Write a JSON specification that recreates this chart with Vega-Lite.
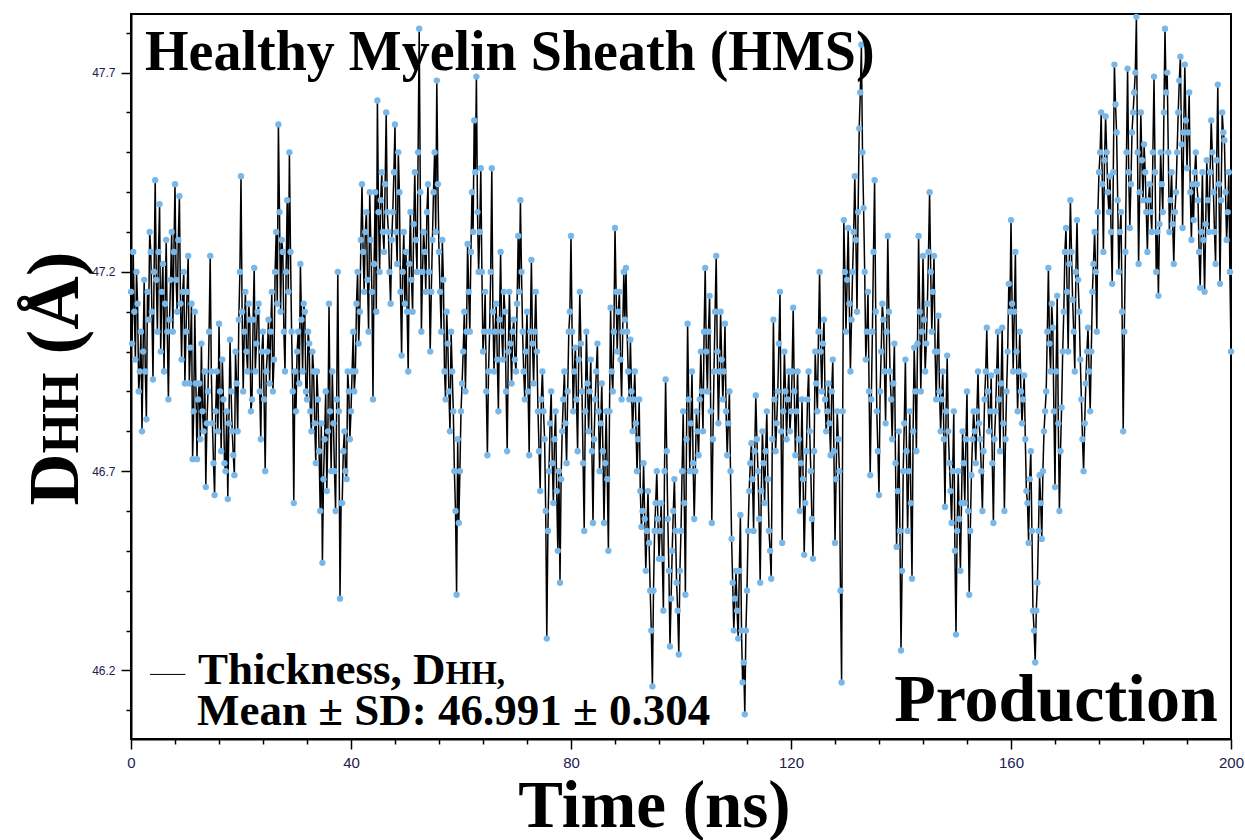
{
"$schema":"https://vega.github.io/schema/vega-lite/v6.json",
"width":1100,"height":725,
"autosize":{"type":"none"},
"padding":{"left":131,"top":14,"right":14,"bottom":101},
"background":"white",
"config":{"view":{"stroke":"black","strokeWidth":2}},
"datasets":{"series":[
{"t":0,"d":47.15},{"t":0.4,"d":47.25},{"t":0.8,"d":46.98},{"t":1.2,"d":47.12},{"t":1.6,"d":46.95},{"t":2,"d":46.80},{"t":2.4,"d":47.18},{"t":2.8,"d":46.83},{"t":3.2,"d":47.08},{"t":3.6,"d":47.25},{"t":4,"d":46.93},{"t":4.4,"d":47.43},{"t":4.8,"d":47.05},{"t":5.2,"d":47.37},{"t":5.6,"d":47.15},{"t":6,"d":46.95},{"t":6.4,"d":47.28},{"t":6.8,"d":46.88},{"t":7.2,"d":47.18},{"t":7.6,"d":47.05},{"t":8,"d":47.42},{"t":8.4,"d":47.10},{"t":8.8,"d":47.39},{"t":9.2,"d":46.98},{"t":9.6,"d":47.20},
{"t":10,"d":47.05},{"t":10.4,"d":47.24},{"t":10.8,"d":47.01},{"t":11.2,"d":46.73},{"t":11.6,"d":47.10},{"t":12,"d":46.73},{"t":12.4,"d":46.92},{"t":12.8,"d":47.02},{"t":13.2,"d":46.80},{"t":13.6,"d":46.66},{"t":14,"d":46.90},{"t":14.4,"d":47.24},{"t":14.8,"d":46.82},{"t":15.2,"d":46.64},{"t":15.6,"d":46.95},{"t":16,"d":47.07},{"t":16.4,"d":46.75},{"t":16.8,"d":46.88},{"t":17.2,"d":46.70},{"t":17.6,"d":46.63},{"t":18,"d":47.03},{"t":18.4,"d":46.80},{"t":18.8,"d":46.69},{"t":19.2,"d":46.92},{"t":19.6,"d":47.08},
{"t":20,"d":47.44},{"t":20.4,"d":46.90},{"t":20.8,"d":47.15},{"t":21.2,"d":46.95},{"t":21.6,"d":47.08},{"t":22,"d":46.88},{"t":22.4,"d":47.21},{"t":22.8,"d":47.02},{"t":23.2,"d":47.12},{"t":23.6,"d":46.78},{"t":24,"d":47.05},{"t":24.4,"d":46.70},{"t":24.8,"d":47.00},{"t":25.2,"d":46.92},{"t":25.6,"d":47.15},{"t":26,"d":46.98},{"t":26.4,"d":47.30},{"t":26.8,"d":47.57},{"t":27.2,"d":47.10},{"t":27.6,"d":47.25},{"t":28,"d":46.95},{"t":28.4,"d":47.38},{"t":28.8,"d":47.50},{"t":29.2,"d":47.05},{"t":29.6,"d":46.62},
{"t":30,"d":46.85},{"t":30.4,"d":47.05},{"t":30.8,"d":47.22},{"t":31.2,"d":46.95},{"t":31.6,"d":47.10},{"t":32,"d":46.88},{"t":32.4,"d":47.02},{"t":32.8,"d":46.80},{"t":33.2,"d":46.95},{"t":33.6,"d":46.72},{"t":34,"d":46.88},{"t":34.4,"d":46.60},{"t":34.8,"d":46.47},{"t":35.2,"d":46.78},{"t":35.6,"d":46.65},{"t":36,"d":47.12},{"t":36.4,"d":46.70},{"t":36.8,"d":46.82},{"t":37.2,"d":46.60},{"t":37.6,"d":47.20},{"t":38,"d":46.38},{"t":38.4,"d":46.62},{"t":38.8,"d":46.80},{"t":39.2,"d":46.68},{"t":39.6,"d":46.90},
{"t":40,"d":46.85},{"t":40.4,"d":47.05},{"t":40.8,"d":46.95},{"t":41.2,"d":47.20},{"t":41.6,"d":47.10},{"t":42,"d":47.42},{"t":42.4,"d":47.15},{"t":42.8,"d":47.35},{"t":43.2,"d":47.05},{"t":43.6,"d":47.28},{"t":44,"d":46.88},{"t":44.4,"d":47.40},{"t":44.8,"d":47.63},{"t":45.2,"d":47.20},{"t":45.6,"d":47.45},{"t":46,"d":47.25},{"t":46.4,"d":47.60},{"t":46.8,"d":47.30},{"t":47.2,"d":47.12},{"t":47.6,"d":47.35},{"t":48,"d":47.57},{"t":48.4,"d":47.22},{"t":48.8,"d":47.40},{"t":49.2,"d":46.99},{"t":49.6,"d":47.30},
{"t":50,"d":47.25},{"t":50.4,"d":46.95},{"t":50.8,"d":47.35},{"t":51.2,"d":47.10},{"t":51.6,"d":47.45},{"t":52,"d":47.20},{"t":52.4,"d":47.81},{"t":52.8,"d":47.05},{"t":53.2,"d":47.30},{"t":53.6,"d":47.15},{"t":54,"d":47.42},{"t":54.4,"d":47.00},{"t":54.8,"d":47.28},{"t":55.2,"d":47.50},{"t":55.6,"d":47.68},{"t":56,"d":47.25},{"t":56.4,"d":47.05},{"t":56.8,"d":47.18},{"t":57.2,"d":46.88},{"t":57.6,"d":47.02},{"t":58,"d":46.80},{"t":58.4,"d":46.95},{"t":58.8,"d":46.70},{"t":59.2,"d":46.39},{"t":59.6,"d":46.57},
{"t":60,"d":46.85},{"t":60.4,"d":47.00},{"t":60.8,"d":46.90},{"t":61.2,"d":47.27},{"t":61.6,"d":47.05},{"t":62,"d":47.40},{"t":62.4,"d":47.58},{"t":62.8,"d":47.69},{"t":63.2,"d":47.20},{"t":63.6,"d":47.46},{"t":64,"d":47.00},{"t":64.4,"d":47.15},{"t":64.8,"d":46.74},{"t":65.2,"d":47.05},{"t":65.6,"d":47.46},{"t":66,"d":46.95},{"t":66.4,"d":47.12},{"t":66.8,"d":46.85},{"t":67.2,"d":47.25},{"t":67.6,"d":46.98},{"t":68,"d":47.10},{"t":68.4,"d":46.75},{"t":68.8,"d":47.15},{"t":69.2,"d":46.92},{"t":69.6,"d":47.08},
{"t":70,"d":46.95},{"t":70.4,"d":47.29},{"t":70.8,"d":47.38},{"t":71.2,"d":47.05},{"t":71.6,"d":46.88},{"t":72,"d":47.10},{"t":72.4,"d":46.74},{"t":72.8,"d":47.23},{"t":73.2,"d":46.92},{"t":73.6,"d":47.15},{"t":74,"d":46.85},{"t":74.4,"d":46.65},{"t":74.8,"d":46.95},{"t":75.2,"d":46.78},{"t":75.6,"d":46.28},{"t":76,"d":46.70},{"t":76.4,"d":46.90},{"t":76.8,"d":46.62},{"t":77.2,"d":46.85},{"t":77.6,"d":46.50},{"t":78,"d":46.42},{"t":78.4,"d":46.80},{"t":78.8,"d":46.95},{"t":79.2,"d":46.72},{"t":79.6,"d":47.05},
{"t":80,"d":47.29},{"t":80.4,"d":46.85},{"t":80.8,"d":47.01},{"t":81.2,"d":46.75},{"t":81.6,"d":47.15},{"t":82,"d":46.90},{"t":82.4,"d":46.55},{"t":82.8,"d":47.05},{"t":83.2,"d":46.80},{"t":83.6,"d":46.98},{"t":84,"d":46.57},{"t":84.4,"d":46.88},{"t":84.8,"d":47.02},{"t":85.2,"d":46.70},{"t":85.6,"d":46.92},{"t":86,"d":46.57},{"t":86.4,"d":46.85},{"t":86.8,"d":46.50},{"t":87.2,"d":47.11},{"t":87.6,"d":46.90},{"t":88,"d":47.31},{"t":88.4,"d":47.00},{"t":88.8,"d":47.15},{"t":89.2,"d":46.88},{"t":89.6,"d":47.20},
{"t":90,"d":47.21},{"t":90.4,"d":46.95},{"t":90.8,"d":47.03},{"t":91.2,"d":46.80},{"t":91.6,"d":46.95},{"t":92,"d":46.70},{"t":92.4,"d":46.88},{"t":92.8,"d":46.56},{"t":93.2,"d":46.72},{"t":93.6,"d":46.45},{"t":94,"d":46.65},{"t":94.4,"d":46.40},{"t":94.8,"d":46.16},{"t":95.2,"d":46.55},{"t":95.6,"d":46.70},{"t":96,"d":46.48},{"t":96.4,"d":46.62},{"t":96.8,"d":46.35},{"t":97.2,"d":46.93},{"t":97.6,"d":46.58},{"t":98,"d":46.26},{"t":98.4,"d":46.50},{"t":98.8,"d":46.68},{"t":99.2,"d":46.42},{"t":99.6,"d":46.24},
{"t":100,"d":46.55},{"t":100.4,"d":46.85},{"t":100.8,"d":46.39},{"t":101.2,"d":47.07},{"t":101.6,"d":46.70},{"t":102,"d":46.95},{"t":102.4,"d":46.58},{"t":102.8,"d":46.85},{"t":103.2,"d":46.74},{"t":103.6,"d":47.00},{"t":104,"d":46.80},{"t":104.4,"d":47.21},{"t":104.8,"d":46.90},{"t":105.2,"d":47.14},{"t":105.6,"d":46.57},{"t":106,"d":46.95},{"t":106.4,"d":47.24},{"t":106.8,"d":46.82},{"t":107.2,"d":47.10},{"t":107.6,"d":46.88},{"t":108,"d":47.07},{"t":108.4,"d":46.74},{"t":108.8,"d":46.90},{"t":109.2,"d":46.53},{"t":109.6,"d":46.30},
{"t":110,"d":46.45},{"t":110.4,"d":46.28},{"t":110.8,"d":46.59},{"t":111.2,"d":46.17},{"t":111.6,"d":46.09},{"t":112,"d":46.40},{"t":112.4,"d":46.65},{"t":112.8,"d":46.77},{"t":113.2,"d":46.55},{"t":113.6,"d":46.89},{"t":114,"d":46.70},{"t":114.4,"d":46.42},{"t":114.8,"d":46.80},{"t":115.2,"d":46.62},{"t":115.6,"d":46.85},{"t":116,"d":46.55},{"t":116.4,"d":46.43},{"t":116.8,"d":47.08},{"t":117.2,"d":46.75},{"t":117.6,"d":46.90},{"t":118,"d":47.15},{"t":118.4,"d":46.52},{"t":118.8,"d":47.00},{"t":119.2,"d":46.78},{"t":119.6,"d":46.95},
{"t":120,"d":46.85},{"t":120.4,"d":47.11},{"t":120.8,"d":46.74},{"t":121.2,"d":46.95},{"t":121.6,"d":46.60},{"t":122,"d":46.88},{"t":122.4,"d":46.49},{"t":122.8,"d":46.75},{"t":123.2,"d":46.95},{"t":123.6,"d":46.70},{"t":124,"d":46.48},{"t":124.4,"d":47.00},{"t":124.8,"d":46.85},{"t":125.2,"d":47.20},{"t":125.6,"d":46.90},{"t":126,"d":47.08},{"t":126.4,"d":46.80},{"t":126.8,"d":46.92},{"t":127.2,"d":46.74},{"t":127.6,"d":46.98},{"t":128,"d":46.52},{"t":128.4,"d":46.85},{"t":128.8,"d":46.70},{"t":129.2,"d":46.17},{"t":129.6,"d":47.33},
{"t":130,"d":47.05},{"t":130.4,"d":47.31},{"t":130.8,"d":46.95},{"t":131.2,"d":47.20},{"t":131.6,"d":47.44},{"t":132,"d":47.10},{"t":132.4,"d":47.56},{"t":132.8,"d":47.77},{"t":133.2,"d":47.36},{"t":133.6,"d":46.98},{"t":134,"d":47.15},{"t":134.4,"d":46.69},{"t":134.8,"d":47.05},{"t":135.2,"d":47.43},{"t":135.6,"d":46.85},{"t":136,"d":46.64},{"t":136.4,"d":47.00},{"t":136.8,"d":47.08},{"t":137.2,"d":46.82},{"t":137.6,"d":47.29},{"t":138,"d":46.95},{"t":138.4,"d":46.78},{"t":138.8,"d":47.02},{"t":139.2,"d":46.51},{"t":139.6,"d":46.80},
{"t":140,"d":46.25},{"t":140.4,"d":46.70},{"t":140.8,"d":46.98},{"t":141.2,"d":46.55},{"t":141.6,"d":46.85},{"t":142,"d":46.43},{"t":142.4,"d":47.01},{"t":142.8,"d":46.75},{"t":143.2,"d":47.29},{"t":143.6,"d":46.90},{"t":144,"d":47.24},{"t":144.4,"d":46.95},{"t":144.8,"d":47.12},{"t":145.2,"d":47.40},{"t":145.6,"d":47.05},{"t":146,"d":47.24},{"t":146.4,"d":46.88},{"t":146.8,"d":47.09},{"t":147.2,"d":46.80},{"t":147.6,"d":46.95},{"t":148,"d":46.61},{"t":148.4,"d":46.99},{"t":148.8,"d":46.72},{"t":149.2,"d":46.57},{"t":149.6,"d":46.85},
{"t":150,"d":46.29},{"t":150.4,"d":46.70},{"t":150.8,"d":46.45},{"t":151.2,"d":46.80},{"t":151.6,"d":46.62},{"t":152,"d":46.90},{"t":152.4,"d":46.39},{"t":152.8,"d":46.69},{"t":153.2,"d":46.85},{"t":153.6,"d":46.72},{"t":154,"d":46.95},{"t":154.4,"d":46.78},{"t":154.8,"d":46.60},{"t":155.2,"d":46.88},{"t":155.6,"d":47.06},{"t":156,"d":46.80},{"t":156.4,"d":46.94},{"t":156.8,"d":46.57},{"t":157.2,"d":46.85},{"t":157.6,"d":47.05},{"t":158,"d":46.75},{"t":158.4,"d":47.06},{"t":158.8,"d":46.60},{"t":159.2,"d":46.90},{"t":159.6,"d":47.17},
{"t":160,"d":47.33},{"t":160.4,"d":46.95},{"t":160.8,"d":47.25},{"t":161.2,"d":46.85},{"t":161.6,"d":47.05},{"t":162,"d":46.82},{"t":162.4,"d":46.94},{"t":162.8,"d":46.65},{"t":163.2,"d":46.52},{"t":163.6,"d":46.75},{"t":164,"d":46.35},{"t":164.4,"d":46.22},{"t":164.8,"d":46.42},{"t":165.2,"d":46.69},{"t":165.6,"d":46.53},{"t":166,"d":46.80},{"t":166.4,"d":46.90},{"t":166.8,"d":47.21},{"t":167.2,"d":46.95},{"t":167.6,"d":47.06},{"t":168,"d":46.66},{"t":168.4,"d":47.14},{"t":168.8,"d":46.60},{"t":169.2,"d":46.86},{"t":169.6,"d":47.10},
{"t":170,"d":47.31},{"t":170.4,"d":47.00},{"t":170.8,"d":47.38},{"t":171.2,"d":47.13},{"t":171.6,"d":46.95},{"t":172,"d":47.33},{"t":172.4,"d":47.10},{"t":172.8,"d":46.88},{"t":173.2,"d":46.70},{"t":173.6,"d":46.92},{"t":174,"d":47.06},{"t":174.4,"d":46.85},{"t":174.8,"d":47.15},{"t":175.2,"d":47.30},{"t":175.6,"d":47.05},{"t":176,"d":47.45},{"t":176.4,"d":47.60},{"t":176.8,"d":47.25},{"t":177.2,"d":47.59},{"t":177.6,"d":47.40},{"t":178,"d":47.44},{"t":178.4,"d":47.17},{"t":178.8,"d":47.72},{"t":179.2,"d":47.55},{"t":179.6,"d":47.20},
{"t":180,"d":47.35},{"t":180.4,"d":46.80},{"t":180.8,"d":47.25},{"t":181.2,"d":47.71},{"t":181.6,"d":47.31},{"t":182,"d":47.55},{"t":182.4,"d":47.65},{"t":182.8,"d":47.84},{"t":183.2,"d":47.22},{"t":183.6,"d":47.60},{"t":184,"d":47.38},{"t":184.4,"d":47.45},{"t":184.8,"d":47.25},{"t":185.2,"d":47.42},{"t":185.6,"d":47.30},{"t":186,"d":47.69},{"t":186.4,"d":47.20},{"t":186.8,"d":47.14},{"t":187.2,"d":47.50},{"t":187.6,"d":47.35},{"t":188,"d":47.81},{"t":188.4,"d":47.70},{"t":188.8,"d":47.30},{"t":189.2,"d":47.45},{"t":189.6,"d":47.22},
{"t":190,"d":47.40},{"t":190.4,"d":47.60},{"t":190.8,"d":47.74},{"t":191.2,"d":47.31},{"t":191.6,"d":47.72},{"t":192,"d":47.46},{"t":192.4,"d":47.65},{"t":192.8,"d":47.28},{"t":193.2,"d":47.33},{"t":193.6,"d":47.50},{"t":194,"d":47.38},{"t":194.4,"d":47.16},{"t":194.8,"d":47.45},{"t":195.2,"d":47.15},{"t":195.6,"d":47.48},{"t":196,"d":47.30},{"t":196.4,"d":47.58},{"t":196.8,"d":47.40},{"t":197.2,"d":47.22},{"t":197.6,"d":47.67},{"t":198,"d":47.17},{"t":198.4,"d":47.60},{"t":198.8,"d":47.53},{"t":199.2,"d":47.28},{"t":199.6,"d":47.45},{"t":200,"d":47.00},
{"t":0.2,"d":47.02},{"t":0.6,"d":47.10},{"t":1,"d":47.20},{"t":1.4,"d":46.90},{"t":1.8,"d":47.05},{"t":2.2,"d":47.00},{"t":2.6,"d":46.95},{"t":3,"d":47.15},{"t":3.4,"d":47.30},{"t":3.8,"d":47.10},{"t":4.2,"d":47.20},{"t":4.6,"d":47.18},{"t":5,"d":47.25},{"t":5.4,"d":47.00},{"t":5.8,"d":47.22},{"t":6.2,"d":47.12},{"t":6.6,"d":47.05},{"t":7,"d":47.08},{"t":7.4,"d":47.30},{"t":7.8,"d":47.25},{"t":8.2,"d":47.18},{"t":8.6,"d":47.28},{"t":9,"d":47.12},{"t":9.4,"d":47.15},{"t":9.8,"d":46.92},
{"t":10.2,"d":47.15},{"t":10.6,"d":46.92},{"t":11,"d":47.12},{"t":11.4,"d":46.85},{"t":11.8,"d":46.92},{"t":12.2,"d":46.88},{"t":12.6,"d":46.78},{"t":13,"d":46.85},{"t":13.4,"d":46.95},{"t":13.8,"d":46.82},{"t":14.2,"d":47.05},{"t":14.6,"d":46.95},{"t":15,"d":46.72},{"t":15.4,"d":46.85},{"t":15.8,"d":46.80},{"t":16.2,"d":46.90},{"t":16.6,"d":46.98},{"t":17,"d":46.72},{"t":17.4,"d":46.85},{"t":17.8,"d":46.82},{"t":18.2,"d":46.90},{"t":18.6,"d":46.74},{"t":19,"d":47.00},{"t":19.4,"d":46.80},{"t":19.8,"d":47.20},
{"t":20.2,"d":47.10},{"t":20.6,"d":47.05},{"t":21,"d":47.00},{"t":21.4,"d":47.12},{"t":21.8,"d":46.85},{"t":22.2,"d":47.08},{"t":22.6,"d":46.95},{"t":23,"d":47.10},{"t":23.4,"d":46.90},{"t":23.8,"d":47.00},{"t":24.2,"d":46.88},{"t":24.6,"d":46.95},{"t":25,"d":47.08},{"t":25.4,"d":47.05},{"t":25.8,"d":46.90},{"t":26.2,"d":47.20},{"t":26.6,"d":47.12},{"t":27,"d":47.35},{"t":27.4,"d":47.28},{"t":27.8,"d":47.05},{"t":28.2,"d":47.20},{"t":28.6,"d":47.15},{"t":29,"d":47.25},{"t":29.4,"d":46.90},{"t":29.8,"d":46.95},
{"t":30.2,"d":47.00},{"t":30.6,"d":46.92},{"t":31,"d":47.08},{"t":31.4,"d":47.12},{"t":31.8,"d":46.90},{"t":32.2,"d":47.05},{"t":32.6,"d":46.85},{"t":33,"d":47.00},{"t":33.4,"d":46.82},{"t":33.8,"d":46.95},{"t":34.2,"d":46.75},{"t":34.6,"d":46.82},{"t":35,"d":46.68},{"t":35.4,"d":46.90},{"t":35.8,"d":46.80},{"t":36.2,"d":46.85},{"t":36.6,"d":46.95},{"t":37,"d":46.70},{"t":37.4,"d":46.88},{"t":37.8,"d":46.85},{"t":38.2,"d":46.62},{"t":38.6,"d":46.75},{"t":39,"d":46.70},{"t":39.4,"d":46.95},{"t":39.8,"d":46.78},
{"t":40.2,"d":46.95},{"t":40.6,"d":46.90},{"t":41,"d":47.12},{"t":41.4,"d":47.02},{"t":41.8,"d":47.28},{"t":42.2,"d":47.25},{"t":42.6,"d":47.30},{"t":43,"d":47.18},{"t":43.4,"d":47.40},{"t":43.8,"d":47.15},{"t":44.2,"d":47.22},{"t":44.6,"d":47.10},{"t":45,"d":47.35},{"t":45.4,"d":47.38},{"t":45.8,"d":47.30},{"t":46.2,"d":47.42},{"t":46.6,"d":47.35},{"t":47,"d":47.20},{"t":47.4,"d":47.28},{"t":47.8,"d":47.45},{"t":48.2,"d":47.30},{"t":48.6,"d":47.50},{"t":49,"d":47.15},{"t":49.4,"d":47.20},{"t":49.8,"d":47.12},
{"t":50.2,"d":47.10},{"t":50.6,"d":47.22},{"t":51,"d":47.18},{"t":51.4,"d":47.32},{"t":51.8,"d":47.28},{"t":52.2,"d":47.50},{"t":52.6,"d":47.40},{"t":53,"d":47.20},{"t":53.4,"d":47.25},{"t":53.8,"d":47.35},{"t":54.2,"d":47.20},{"t":54.6,"d":47.15},{"t":55,"d":47.40},{"t":55.4,"d":47.30},{"t":55.8,"d":47.42},{"t":56.2,"d":47.15},{"t":56.6,"d":47.28},{"t":57,"d":46.95},{"t":57.4,"d":47.10},{"t":57.8,"d":46.90},{"t":58.2,"d":47.05},{"t":58.6,"d":46.85},{"t":59,"d":46.60},{"t":59.4,"d":46.78},{"t":59.8,"d":46.70},
{"t":60.2,"d":46.92},{"t":60.6,"d":47.10},{"t":61,"d":47.05},{"t":61.4,"d":47.15},{"t":61.8,"d":47.25},{"t":62.2,"d":47.30},{"t":62.6,"d":47.45},{"t":63,"d":47.35},{"t":63.4,"d":47.30},{"t":63.8,"d":47.20},{"t":64.2,"d":47.05},{"t":64.6,"d":46.90},{"t":65,"d":46.95},{"t":65.4,"d":47.20},{"t":65.8,"d":47.10},{"t":66.2,"d":47.05},{"t":66.6,"d":46.98},{"t":67,"d":47.08},{"t":67.4,"d":47.05},{"t":67.8,"d":47.15},{"t":68.2,"d":46.90},{"t":68.6,"d":47.00},{"t":69,"d":47.02},{"t":69.4,"d":47.05},{"t":69.8,"d":46.98},
{"t":70.2,"d":47.12},{"t":70.6,"d":47.15},{"t":71,"d":47.20},{"t":71.4,"d":46.95},{"t":71.8,"d":47.00},{"t":72.2,"d":46.90},{"t":72.6,"d":47.05},{"t":73,"d":47.02},{"t":73.4,"d":47.05},{"t":73.8,"d":47.00},{"t":74.2,"d":46.75},{"t":74.6,"d":46.88},{"t":75,"d":46.85},{"t":75.4,"d":46.60},{"t":75.8,"d":46.55},{"t":76.2,"d":46.82},{"t":76.6,"d":46.72},{"t":77,"d":46.78},{"t":77.4,"d":46.65},{"t":77.8,"d":46.70},{"t":78.2,"d":46.68},{"t":78.6,"d":46.88},{"t":79,"d":46.82},{"t":79.4,"d":46.90},{"t":79.8,"d":47.10},
{"t":80.2,"d":47.05},{"t":80.6,"d":46.95},{"t":81,"d":46.88},{"t":81.4,"d":46.98},{"t":81.8,"d":47.02},{"t":82.2,"d":46.72},{"t":82.6,"d":46.85},{"t":83,"d":46.92},{"t":83.4,"d":46.90},{"t":83.8,"d":46.75},{"t":84.2,"d":46.78},{"t":84.6,"d":46.95},{"t":85,"d":46.85},{"t":85.4,"d":46.82},{"t":85.8,"d":46.75},{"t":86.2,"d":46.72},{"t":86.6,"d":46.68},{"t":87,"d":46.85},{"t":87.4,"d":46.95},{"t":87.8,"d":47.05},{"t":88.2,"d":47.15},{"t":88.6,"d":47.10},{"t":89,"d":46.98},{"t":89.4,"d":47.05},{"t":89.8,"d":47.08},
{"t":90.2,"d":47.05},{"t":90.6,"d":46.88},{"t":91,"d":46.90},{"t":91.4,"d":46.88},{"t":91.8,"d":46.82},{"t":92.2,"d":46.78},{"t":92.6,"d":46.65},{"t":93,"d":46.60},{"t":93.4,"d":46.58},{"t":93.8,"d":46.55},{"t":94.2,"d":46.52},{"t":94.6,"d":46.30},{"t":95,"d":46.40},{"t":95.4,"d":46.62},{"t":95.8,"d":46.58},{"t":96.2,"d":46.55},{"t":96.6,"d":46.48},{"t":97,"d":46.70},{"t":97.4,"d":46.75},{"t":97.8,"d":46.45},{"t":98.2,"d":46.38},{"t":98.6,"d":46.60},{"t":99,"d":46.55},{"t":99.4,"d":46.35},{"t":99.8,"d":46.45},
{"t":100.2,"d":46.70},{"t":100.6,"d":46.62},{"t":101,"d":46.78},{"t":101.4,"d":46.88},{"t":101.8,"d":46.82},{"t":102.2,"d":46.72},{"t":102.6,"d":46.70},{"t":103,"d":46.80},{"t":103.4,"d":46.88},{"t":103.8,"d":46.90},{"t":104.2,"d":47.05},{"t":104.6,"d":47.00},{"t":105,"d":47.05},{"t":105.4,"d":46.85},{"t":105.8,"d":46.78},{"t":106.2,"d":47.10},{"t":106.6,"d":47.00},{"t":107,"d":46.95},{"t":107.4,"d":46.98},{"t":107.8,"d":46.95},{"t":108.2,"d":46.85},{"t":108.6,"d":46.82},{"t":109,"d":46.70},{"t":109.4,"d":46.42},{"t":109.8,"d":46.38},
{"t":110.2,"d":46.35},{"t":110.6,"d":46.45},{"t":111,"d":46.30},{"t":111.4,"d":46.22},{"t":111.8,"d":46.30},{"t":112.2,"d":46.55},{"t":112.6,"d":46.72},{"t":113,"d":46.68},{"t":113.4,"d":46.75},{"t":113.8,"d":46.78},{"t":114.2,"d":46.58},{"t":114.6,"d":46.65},{"t":115,"d":46.72},{"t":115.4,"d":46.75},{"t":115.8,"d":46.68},{"t":116.2,"d":46.50},{"t":116.6,"d":46.78},{"t":117,"d":46.88},{"t":117.4,"d":46.82},{"t":117.8,"d":47.02},{"t":118.2,"d":46.80},{"t":118.6,"d":46.85},{"t":119,"d":46.90},{"t":119.4,"d":46.88},{"t":119.8,"d":46.80},
{"t":120.2,"d":46.95},{"t":120.6,"d":46.90},{"t":121,"d":46.85},{"t":121.4,"d":46.78},{"t":121.8,"d":46.72},{"t":122.2,"d":46.68},{"t":122.6,"d":46.62},{"t":123,"d":46.88},{"t":123.4,"d":46.80},{"t":123.8,"d":46.58},{"t":124.2,"d":46.75},{"t":124.6,"d":46.92},{"t":125,"d":47.05},{"t":125.4,"d":47.00},{"t":125.8,"d":47.02},{"t":126.2,"d":46.88},{"t":126.6,"d":46.85},{"t":127,"d":46.82},{"t":127.4,"d":46.90},{"t":127.8,"d":46.75},{"t":128.2,"d":46.68},{"t":128.6,"d":46.78},{"t":129,"d":46.40},{"t":129.4,"d":46.85},{"t":129.8,"d":47.20},
{"t":130.2,"d":47.18},{"t":130.6,"d":47.12},{"t":131,"d":47.08},{"t":131.4,"d":47.30},{"t":131.8,"d":47.28},{"t":132.2,"d":47.35},{"t":132.6,"d":47.65},{"t":133,"d":47.50},{"t":133.4,"d":47.20},{"t":133.8,"d":47.05},{"t":134.2,"d":46.90},{"t":134.6,"d":46.88},{"t":135,"d":47.25},{"t":135.4,"d":47.10},{"t":135.8,"d":46.75},{"t":136.2,"d":46.90},{"t":136.6,"d":47.12},{"t":137,"d":46.95},{"t":137.4,"d":47.05},{"t":137.8,"d":47.10},{"t":138.2,"d":46.88},{"t":138.6,"d":46.92},{"t":139,"d":46.72},{"t":139.4,"d":46.65},{"t":139.8,"d":46.55},
{"t":140.2,"d":46.45},{"t":140.6,"d":46.82},{"t":141,"d":46.75},{"t":141.4,"d":46.70},{"t":141.8,"d":46.62},{"t":142.2,"d":46.80},{"t":142.6,"d":46.90},{"t":143,"d":47.02},{"t":143.4,"d":47.10},{"t":143.8,"d":47.05},{"t":144.2,"d":47.08},{"t":144.6,"d":47.02},{"t":145,"d":47.25},{"t":145.4,"d":47.20},{"t":145.8,"d":47.15},{"t":146.2,"d":47.00},{"t":146.6,"d":47.00},{"t":147,"d":46.90},{"t":147.4,"d":46.88},{"t":147.8,"d":46.78},{"t":148.2,"d":46.85},{"t":148.6,"d":46.80},{"t":149,"d":46.65},{"t":149.4,"d":46.70},{"t":149.8,"d":46.50},
{"t":150.2,"d":46.55},{"t":150.6,"d":46.58},{"t":151,"d":46.62},{"t":151.4,"d":46.72},{"t":151.8,"d":46.78},{"t":152.2,"d":46.60},{"t":152.6,"d":46.55},{"t":153,"d":46.78},{"t":153.4,"d":46.80},{"t":153.8,"d":46.85},{"t":154.2,"d":46.82},{"t":154.6,"d":46.70},{"t":155,"d":46.75},{"t":155.4,"d":46.95},{"t":155.8,"d":46.90},{"t":156.2,"d":46.85},{"t":156.6,"d":46.72},{"t":157,"d":46.78},{"t":157.4,"d":46.95},{"t":157.8,"d":46.88},{"t":158.2,"d":46.92},{"t":158.6,"d":46.82},{"t":159,"d":46.78},{"t":159.4,"d":47.00},{"t":159.8,"d":47.10},
{"t":160.2,"d":47.12},{"t":160.6,"d":47.10},{"t":161,"d":47.00},{"t":161.4,"d":46.95},{"t":161.8,"d":46.90},{"t":162.2,"d":46.88},{"t":162.6,"d":46.78},{"t":163,"d":46.62},{"t":163.4,"d":46.68},{"t":163.8,"d":46.55},{"t":164.2,"d":46.30},{"t":164.6,"d":46.35},{"t":165,"d":46.55},{"t":165.4,"d":46.62},{"t":165.8,"d":46.70},{"t":166.2,"d":46.85},{"t":166.6,"d":47.05},{"t":167,"d":47.02},{"t":167.4,"d":47.12},{"t":167.8,"d":46.85},{"t":168.2,"d":46.95},{"t":168.6,"d":46.82},{"t":169,"d":46.75},{"t":169.4,"d":47.00},{"t":169.8,"d":47.25},
{"t":170.2,"d":47.15},{"t":170.6,"d":47.22},{"t":171,"d":47.25},{"t":171.4,"d":47.05},{"t":171.8,"d":47.20},{"t":172.2,"d":47.18},{"t":172.6,"d":46.98},{"t":173,"d":46.78},{"t":173.4,"d":46.82},{"t":173.8,"d":47.00},{"t":174.2,"d":46.95},{"t":174.6,"d":47.00},{"t":175,"d":47.22},{"t":175.4,"d":47.20},{"t":175.8,"d":47.35},{"t":176.2,"d":47.50},{"t":176.6,"d":47.42},{"t":177,"d":47.48},{"t":177.4,"d":47.50},{"t":177.8,"d":47.35},{"t":178.2,"d":47.30},{"t":178.6,"d":47.45},{"t":179,"d":47.62},{"t":179.4,"d":47.38},{"t":179.8,"d":47.30},
{"t":180.2,"d":47.10},{"t":180.6,"d":47.05},{"t":181,"d":47.50},{"t":181.4,"d":47.45},{"t":181.8,"d":47.42},{"t":182.2,"d":47.60},{"t":182.6,"d":47.70},{"t":183,"d":47.50},{"t":183.4,"d":47.40},{"t":183.8,"d":47.48},{"t":184.2,"d":47.52},{"t":184.6,"d":47.35},{"t":185,"d":47.38},{"t":185.4,"d":47.35},{"t":185.8,"d":47.50},{"t":186.2,"d":47.45},{"t":186.6,"d":47.30},{"t":187,"d":47.32},{"t":187.4,"d":47.42},{"t":187.8,"d":47.60},{"t":188.2,"d":47.65},{"t":188.6,"d":47.50},{"t":189,"d":47.38},{"t":189.4,"d":47.32},{"t":189.8,"d":47.35},
{"t":190.2,"d":47.50},{"t":190.6,"d":47.68},{"t":191,"d":47.52},{"t":191.4,"d":47.55},{"t":191.8,"d":47.58},{"t":192.2,"d":47.55},{"t":192.6,"d":47.40},{"t":193,"d":47.42},{"t":193.4,"d":47.45},{"t":193.8,"d":47.42},{"t":194.2,"d":47.25},{"t":194.6,"d":47.30},{"t":195,"d":47.28},{"t":195.4,"d":47.32},{"t":195.8,"d":47.38},{"t":196.2,"d":47.45},{"t":196.6,"d":47.50},{"t":197,"d":47.30},{"t":197.4,"d":47.48},{"t":197.8,"d":47.42},{"t":198.2,"d":47.38},{"t":198.6,"d":47.55},{"t":199,"d":47.40},{"t":199.4,"d":47.35},{"t":199.8,"d":47.20}
]},
"resolve":{"axis":{"x":"independent","y":"independent"}},
"layer":[
{"data":{"name":"series"},
 "mark":{"type":"line","color":"black","strokeWidth":1.5},
 "encoding":{
  "order":{"field":"t","type":"quantitative"},
  "x":{"field":"t","type":"quantitative","scale":{"domain":[0,200],"nice":false,"zero":false},
   "axis":{"orient":"bottom","values":[0,40,80,120,160,200],"tickSize":10,
    "tickColor":"black","tickWidth":1.5,"domainColor":"black","domainWidth":2,"grid":false,
    "labelFont":"Liberation Sans","labelFontSize":15,"labelColor":"#202050","labelPadding":6,"labelOverlap":false,"labelFlush":false,
    "title":"Time (ns)","titleFont":"Liberation Serif","titleFontSize":67,"titleFontWeight":"bold","titleColor":"black",
    "titleBaseline":"alphabetic","titleY":87,"titleX":523,"titleAlign":"center","titleAnchor":"start"}},
  "y":{"field":"d","type":"quantitative","scale":{"domain":[46.028,47.847],"nice":false,"zero":false},
   "axis":{"orient":"left","values":[46.2,46.7,47.2,47.7],"format":".1f","tickSize":10,
    "tickColor":"black","tickWidth":1.5,"domainColor":"black","domainWidth":2,"grid":false,
    "labelFont":"Liberation Sans","labelFontSize":12,"labelColor":"#202050","labelPadding":6,"labelOverlap":false,"labelFlush":false,
    "title":null}}
 }},
{"data":{"name":"series"},
 "mark":{"type":"point","filled":true,"color":"#78b7e8","size":40,"opacity":1},
 "encoding":{
  "x":{"field":"t","type":"quantitative",
   "axis":{"orient":"bottom","values":[8,16,24,32,48,56,64,72,88,96,104,112,128,136,144,152,168,176,184,192],"tickSize":5,"tickColor":"black","tickWidth":1.5,"domain":false,"labels":false,"grid":false,"title":null}},
  "y":{"field":"d","type":"quantitative",
   "axis":{"orient":"left","values":[46.1,46.3,46.4,46.5,46.6,46.8,46.9,47.0,47.1,47.3,47.4,47.5,47.6,47.8],"tickSize":5,"tickColor":"black","tickWidth":1.5,"domain":false,"labels":false,"grid":false,"title":null}}}},
{"data":{"values":[{"s":"Healthy Myelin Sheath (HMS)"}]},
 "mark":{"type":"text","align":"left","baseline":"alphabetic","font":"Liberation Serif","fontWeight":"bold","fontSize":56,"color":"black"},
 "encoding":{"x":{"datum":2.55,"type":"quantitative","axis":null},"y":{"datum":47.707,"type":"quantitative","axis":null},"text":{"field":"s"}}},
{"data":{"values":[{"s":"D"}]},
 "mark":{"type":"text","angle":270,"align":"left","baseline":"alphabetic","font":"Liberation Serif","fontWeight":"bold","fontSize":72,"color":"black"},
 "encoding":{"x":{"datum":-9.64,"type":"quantitative","axis":null},"y":{"datum":46.614,"type":"quantitative","axis":null},"text":{"field":"s"}}},
{"data":{"values":[{"s":"HH"}]},
 "mark":{"type":"text","angle":270,"align":"left","baseline":"alphabetic","font":"Liberation Serif","fontWeight":"bold","fontSize":52,"color":"black"},
 "encoding":{"x":{"datum":-9.64,"type":"quantitative","axis":null},"y":{"datum":46.7445,"type":"quantitative","axis":null},"text":{"field":"s"}}},
{"data":{"values":[{"s":"(Å)"}]},
 "mark":{"type":"text","angle":270,"align":"left","baseline":"alphabetic","font":"Liberation Serif","fontWeight":"bold","fontSize":74,"color":"black"},
 "encoding":{"x":{"datum":-9.64,"type":"quantitative","axis":null},"y":{"datum":46.993,"type":"quantitative","axis":null},"text":{"field":"s"}}},
{"data":{"values":[{"s":"Thickness, DHH"}]},
 "mark":{"type":"rule","color":"black","strokeWidth":1},
 "encoding":{"x":{"datum":3.45,"type":"quantitative","axis":null},"x2":{"datum":9.9},"y":{"datum":46.19,"type":"quantitative","axis":null}}},
{"data":{"values":[{"s":"Thickness, D"}]},
 "mark":{"type":"text","align":"left","baseline":"alphabetic","font":"Liberation Serif","fontWeight":"bold","fontSize":45,"color":"black"},
 "encoding":{"x":{"datum":12.18,"type":"quantitative","axis":null},"y":{"datum":46.167,"type":"quantitative","axis":null},"text":{"field":"s"}}},
{"data":{"values":[{"s":"HH,"}]},
 "mark":{"type":"text","align":"left","baseline":"alphabetic","font":"Liberation Serif","fontWeight":"bold","fontSize":33,"color":"black"},
 "encoding":{"x":{"datum":57.18,"type":"quantitative","axis":null},"y":{"datum":46.167,"type":"quantitative","axis":null},"text":{"field":"s"}}},
{"data":{"values":[{"s":"Mean ± SD: 46.991 ± 0.304"}]},
 "mark":{"type":"text","align":"left","baseline":"alphabetic","font":"Liberation Serif","fontWeight":"bold","fontSize":45,"color":"black"},
 "encoding":{"x":{"datum":12.0,"type":"quantitative","axis":null},"y":{"datum":46.0636,"type":"quantitative","axis":null},"text":{"field":"s"}}},
{"data":{"values":[{"s":"Production"}]},
 "mark":{"type":"text","align":"right","baseline":"alphabetic","font":"Liberation Serif","fontWeight":"bold","fontSize":68,"color":"black"},
 "encoding":{"x":{"datum":197.6,"type":"quantitative","axis":null},"y":{"datum":46.074,"type":"quantitative","axis":null},"text":{"field":"s"}}}
]
}
